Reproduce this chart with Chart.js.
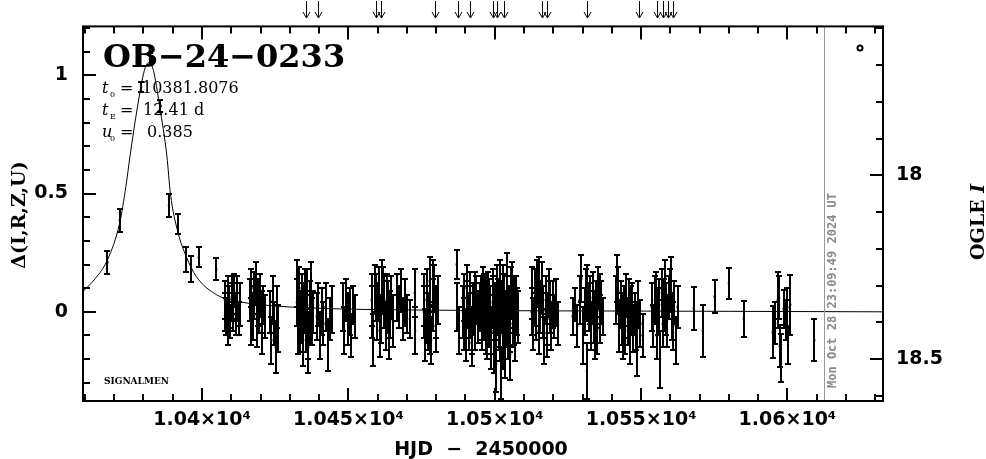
<!DOCTYPE html>
<html>
<head>
<meta charset="utf-8">
<title>OB-24-0233</title>
<script src="https://cdn.jsdelivr.net/npm/chart.js@4.4.1/dist/chart.umd.min.js"></script>
<style>
  html, body { margin: 0; padding: 0; background: #fff; }
</style>
</head>
<body>
<canvas id="lc" width="986" height="459"></canvas>
<script>
// Photometry: HJD-2450000, delta flux, error (one line per observing run)
const obsHJD = [
  10367.7, 10371.9, 10379.2, 10382.2, 10385.8, 10388.7, 10391.8, 10394.6, 10396.3, 10398.9, 10404.9,
  10407.8, 10408.3, 10408.8, 10409.2, 10409.7, 10410.1, 10410.6, 10411.0, 10411.5, 10412.0, 10412.6, 10413.0,
  10416.4, 10416.9, 10417.4, 10417.9, 10418.4, 10418.9, 10419.4, 10419.9, 10420.4, 10420.9, 10421.5,
  10423.2, 10423.7, 10424.2, 10424.7, 10425.2, 10425.6, 10425.9,
  10432.4, 10432.8, 10433.3, 10433.7, 10434.2, 10434.6, 10435.0, 10435.5, 10435.9, 10436.3, 10436.8, 10437.2, 10437.6, 10437.9,
  10439.2, 10439.7, 10440.3, 10440.9, 10441.5, 10442.2, 10443.0, 10443.7, 10444.4,
  10448.1, 10448.6, 10449.2, 10449.8, 10450.4, 10451.0, 10451.6, 10452.2,
  10458.0, 10458.5, 10459.2, 10459.8, 10460.4, 10461.0, 10461.6, 10462.2, 10462.8, 10463.4, 10464.0, 10464.6, 10465.2,
  10466.6, 10467.3, 10468.0, 10468.7, 10469.4, 10470.0, 10471.0, 10472.7, 10472.8,
  10475.8, 10476.3, 10476.8, 10477.3, 10477.8, 10478.3, 10478.8, 10479.3, 10479.8, 10480.5,
  10487.0, 10487.2, 10487.8,
  10489.1, 10489.6, 10490.1, 10490.6, 10491.1, 10491.6, 10492.1, 10492.6, 10493.1, 10493.6, 10494.2, 10494.9,
  10495.3, 10495.7, 10496.1, 10496.5, 10496.9, 10497.3, 10497.7, 10498.1, 10498.5, 10498.9, 10499.3, 10499.7, 10500.1, 10500.5, 10500.9, 10501.3,
  10501.7, 10502.1, 10502.5, 10502.9, 10503.3, 10503.7, 10504.1, 10504.5, 10504.9, 10505.3, 10505.7, 10506.1, 10506.5, 10507.0, 10507.4, 10507.8,
  10512.6, 10513.2, 10513.8, 10514.4, 10515.0, 10515.6, 10516.2, 10516.8, 10517.4, 10518.0, 10518.6, 10519.2, 10519.8, 10520.4, 10521.0, 10521.5,
  10526.6, 10527.4, 10528.2, 10529.0, 10529.6, 10530.2, 10530.7,
  10531.2, 10531.4, 10531.5, 10532.3, 10532.9, 10533.5, 10534.1, 10534.7, 10535.3, 10535.9, 10536.4, 10536.9,
  10541.6, 10541.9, 10542.5, 10543.1, 10543.7, 10544.3, 10544.9, 10545.5, 10546.1, 10546.7, 10547.3, 10547.9, 10548.5, 10549.1, 10549.8, 10550.5,
  10553.6, 10554.1, 10554.7, 10555.3, 10555.9, 10556.5, 10557.1, 10557.7, 10558.3, 10558.9, 10559.5, 10560.1, 10560.7, 10561.3, 10561.9, 10562.5,
  10568.0, 10571.1, 10575.1, 10580.0, 10585.1,
  10595.0, 10595.8, 10596.7, 10597.2, 10597.4, 10597.8, 10598.7, 10599.5, 10600.0, 10600.2, 10601.0,
  10609.2,
  // second pass through the crowded runs
  10408.0, 10409.0, 10410.4, 10411.8,
  10416.6, 10417.6, 10419.1, 10420.6,
  10432.6, 10433.5, 10434.4, 10435.2, 10436.1, 10437.0,
  10458.2, 10459.5, 10460.7, 10461.9, 10463.1, 10464.3,
  10476.0, 10477.0, 10478.0, 10479.0, 10480.0,
  10489.4, 10490.4, 10491.4, 10492.4, 10493.4,
  10495.5, 10496.3, 10497.1, 10497.9, 10498.7, 10499.5, 10500.3, 10501.1,
  10501.9, 10502.7, 10503.5, 10504.3, 10505.1, 10505.9, 10506.7, 10507.5,
  10512.9, 10514.1, 10515.3, 10516.5, 10517.7, 10518.9,
  10532.6, 10533.8, 10535.0, 10536.1,
  10542.2, 10543.4, 10544.6, 10545.8, 10547.0, 10548.2,
  10555.0, 10556.2, 10557.4, 10558.6, 10559.8, 10561.0
];
const obsDelta = [
  0.21, 0.386, 0.95, 1.07, 0.87, 0.45, 0.37, 0.22, 0.18, 0.23, 0.18,
  0.05, -0.02, 0.08, 0.02, -0.04, 0.06, 0.00, 0.09, -0.01, 0.04, -0.03, 0.03,
  0.05, 0.10, -0.02, 0.04, 0.12, -0.06, 0.01, 0.07, -0.08, 0.03, -0.02,
  0.00, -0.12, 0.05, -0.05, -0.15, 0.02, -0.07,
  0.04, -0.08, 0.10, -0.02, 0.06, -0.12, 0.01, -0.05, 0.08, -0.15, 0.03, 0.11, -0.04, 0.00,
  -0.02, 0.03, -0.10, 0.00, -0.05, 0.02, -0.14, -0.03, 0.01,
  0.02, -0.08, 0.05, -0.03, 0.00, -0.10, 0.03, -0.02,
  0.05, -0.12, 0.10, 0.00, 0.08, -0.03, 0.12, 0.04, -0.06, 0.02, -0.10, 0.06, -0.04,
  0.06, 0.02, 0.09, -0.03, 0.04, -0.01, -0.03, 0.08, -0.08,
  0.00, -0.10, 0.08, -0.04, 0.13, -0.12, 0.03, 0.10, -0.06, 0.05,
  0.20, 0.02, -0.08,
  0.00, 0.06, -0.10, 0.03, -0.04, 0.08, -0.13, 0.01, -0.06, 0.05, -0.02, 0.02,
  0.05, -0.05, 0.10, -0.02, 0.03, -0.10, 0.07, -0.04, 0.01, -0.08, 0.04, -0.15, 0.00, -0.22, 0.09, -0.06,
  0.12, -0.26, 0.02, -0.12, 0.06, -0.03, 0.15, -0.09, 0.01, -0.18, 0.08, -0.05, 0.03, -0.10, 0.05, -0.02,
  0.00, -0.05, 0.06, 0.12, -0.08, 0.02, 0.10, -0.12, 0.05, -0.03, 0.08, -0.06, 0.03, -0.02, 0.04, -0.05,
  -0.02, 0.03, -0.06, 0.05, 0.14, -0.10, 0.00,
  0.08, 0.08, -0.25, 0.02, -0.06, 0.06, -0.10, 0.03, 0.10, -0.03, 0.04, -0.02,
  0.05, 0.14, -0.06, 0.03, -0.10, 0.00, 0.07, -0.04, -0.12, 0.02, -0.07, -0.01, -0.16, 0.03, -0.05, -0.10,
  0.02, -0.06, 0.05, -0.10, 0.00, -0.20, 0.08, 0.03, 0.12, -0.04, 0.06, 0.14, -0.02, 0.04, -0.12, 0.02,
  0.015, -0.08, 0.065, 0.12, -0.03,
  -0.087, -0.048, 0.05, 0.06, -0.145, -0.195, 0.012, -0.035, 0.02, -0.14, 0.03,
  -0.12,
  // second pass
  0.00, -0.05, 0.04, 0.07,
  -0.04, 0.08, 0.04, 0.00,
  0.12, -0.06, 0.02, 0.07, -0.10, -0.02,
  0.00, 0.06, -0.08, 0.09, 0.05, -0.01,
  0.05, -0.01, -0.07, 0.12, 0.00,
  -0.05, 0.10, 0.00, -0.08, 0.07,
  -0.01, 0.06, -0.07, 0.04, -0.12, 0.08, -0.04, 0.02,
  -0.10, 0.10, -0.16, 0.04, -0.06, 0.11, -0.03, 0.00,
  0.08, -0.02, 0.13, 0.00, -0.09, 0.02,
  0.05, -0.02, -0.08, 0.07,
  0.09, -0.03, -0.08, 0.04, 0.01, -0.06,
  0.07, 0.03, -0.05, 0.01, 0.09, -0.06
];
const obsErr = [
  0.049, 0.047, 0.022, 0.025, 0.025, 0.05, 0.042, 0.053, 0.055, 0.042, 0.047,
  0.08, 0.08, 0.07, 0.09, 0.07, 0.09, 0.08, 0.07, 0.09, 0.08, 0.07, 0.09,
  0.09, 0.08, 0.10, 0.07, 0.09, 0.09, 0.10, 0.09, 0.10, 0.08, 0.09,
  0.09, 0.10, 0.10, 0.09, 0.11, 0.09, 0.10,
  0.10, 0.10, 0.09, 0.11, 0.10, 0.11, 0.10, 0.12, 0.10, 0.11, 0.10, 0.10, 0.10, 0.09,
  0.10, 0.09, 0.10, 0.10, 0.09, 0.10, 0.11, 0.09, 0.10,
  0.10, 0.10, 0.09, 0.11, 0.10, 0.09, 0.08, 0.09,
  0.11, 0.11, 0.10, 0.12, 0.11, 0.10, 0.10, 0.11, 0.10, 0.11, 0.10, 0.09, 0.11,
  0.10, 0.09, 0.09, 0.09, 0.10, 0.08, 0.08, 0.10, 0.10,
  0.11, 0.11, 0.10, 0.12, 0.10, 0.10, 0.11, 0.10, 0.11, 0.10,
  0.06, 0.10, 0.10,
  0.11, 0.10, 0.11, 0.10, 0.12, 0.09, 0.10, 0.11, 0.10, 0.10, 0.11, 0.10,
  0.10, 0.11, 0.09, 0.10, 0.12, 0.10, 0.10, 0.11, 0.10, 0.10, 0.11, 0.11, 0.12, 0.12, 0.11, 0.10,
  0.10, 0.11, 0.11, 0.12, 0.10, 0.12, 0.10, 0.11, 0.10, 0.11, 0.11, 0.10, 0.12, 0.11, 0.10, 0.11,
  0.10, 0.11, 0.12, 0.10, 0.10, 0.11, 0.11, 0.10, 0.10, 0.11, 0.10, 0.10, 0.10, 0.09, 0.10, 0.09,
  0.08, 0.07, 0.09, 0.10, 0.10, 0.12, 0.10,
  0.10, 0.12, 0.12, 0.10, 0.10, 0.11, 0.10, 0.10, 0.09, 0.10, 0.09, 0.08,
  0.10, 0.10, 0.11, 0.10, 0.10, 0.11, 0.09, 0.10, 0.10, 0.09, 0.10, 0.09, 0.11, 0.10, 0.10, 0.09,
  0.10, 0.09, 0.10, 0.10, 0.10, 0.12, 0.10, 0.11, 0.10, 0.11, 0.09, 0.09, 0.10, 0.09, 0.10, 0.09,
  0.09, 0.11, 0.07, 0.066, 0.075,
  0.11, 0.09, 0.12, 0.09, 0.09, 0.10, 0.08, 0.085, 0.08, 0.08, 0.127,
  0.09,
  // second pass
  0.08, 0.09, 0.08, 0.08,
  0.10, 0.09, 0.10, 0.09,
  0.10, 0.11, 0.10, 0.11, 0.10, 0.11,
  0.11, 0.10, 0.11, 0.10, 0.11, 0.10,
  0.11, 0.12, 0.11, 0.10, 0.11,
  0.11, 0.10, 0.11, 0.10, 0.10,
  0.11, 0.10, 0.11, 0.10, 0.12, 0.10, 0.11, 0.12,
  0.11, 0.10, 0.12, 0.11, 0.11, 0.10, 0.11, 0.10,
  0.11, 0.10, 0.10, 0.11, 0.10, 0.11,
  0.10, 0.11, 0.10, 0.09,
  0.10, 0.11, 0.10, 0.10, 0.11, 0.10,
  0.10, 0.11, 0.10, 0.11, 0.09, 0.10
];

// Model light curve
const modelHJD = [10359.34, 10363.5, 10367.7, 10371.9, 10374.0, 10375.4, 10378.0, 10380.3, 10381.8, 10383.4,
  10385.5, 10388.0, 10389.2, 10391.8, 10394.6, 10398.0, 10405.0, 10412.0, 10420.0, 10440.0,
  10470.0, 10520.0, 10580.0, 10632.66];
const modelDelta = [0.086, 0.14, 0.22, 0.377, 0.53, 0.658, 0.87, 1.02, 1.054, 1.02,
  0.87, 0.658, 0.50, 0.335, 0.234, 0.15, 0.072, 0.045, 0.03, 0.015,
  0.008, 0.004, 0.002, 0.0];

// Arrows along the top edge
const arrowHJD = [10435.5, 10439.6, 10459.6, 10461.3, 10479.6, 10487.6, 10491.6, 10499.5, 10500.7, 10503.2,
  10516.1, 10517.8, 10531.4, 10549.4, 10555.3, 10557.4, 10559.3, 10561.0];

// Ticks
const xTickValues = [10400, 10450, 10500, 10550, 10600];
const xTickLabels = ['1.04×10⁴', '1.045×10⁴', '1.05×10⁴', '1.055×10⁴', '1.06×10⁴'];
const yTickValues = [0, 0.5, 1];
const yTickLabels = ['0', '0.5', '1'];
const magTickValues = [18, 18.5];
const magTickLabels = ['18', '18.5'];

const nowHJD = 10612.4;
const stamp = 'Mon Oct 28 23:09:49 2024 UT';

const tickFont = { family: 'DejaVu Sans', size: 19, weight: 'bold' };

// Error bars with small caps
const errorBars = {
  id: 'errorBars',
  afterDatasetsDraw(chart) {
    const { ctx, chartArea: a, scales: { x, y } } = chart;
    ctx.save();
    ctx.beginPath();
    ctx.rect(a.left, a.top, a.right - a.left, a.bottom - a.top);
    ctx.clip();
    ctx.strokeStyle = '#000';
    ctx.lineWidth = 2;
    obsHJD.forEach((t, i) => {
      const px = Math.round(x.getPixelForValue(t));
      const hi = Math.round(y.getPixelForValue(obsDelta[i] + obsErr[i]));
      const lo = Math.round(y.getPixelForValue(obsDelta[i] - obsErr[i]));
      ctx.beginPath();
      ctx.moveTo(px, hi); ctx.lineTo(px, lo);
      ctx.moveTo(px - 3, hi); ctx.lineTo(px + 3, hi);
      ctx.moveTo(px - 3, lo); ctx.lineTo(px + 3, lo);
      ctx.stroke();
    });
    ctx.restore();
  }
};

// Frame, inward ticks, labels and annotations
const decorations = {
  id: 'decorations',
  afterDraw(chart) {
    const { ctx, chartArea: a, scales: { x, y, y2 } } = chart;
    const seg = (x1, y1, x2, y2_) => { ctx.moveTo(x1, y1); ctx.lineTo(x2, y2_); };
    ctx.save();

    // time of plot
    const nx = Math.round(x.getPixelForValue(nowHJD)) + 0.5;
    ctx.strokeStyle = '#999';
    ctx.lineWidth = 1;
    ctx.beginPath(); seg(nx, a.top, nx, a.bottom); ctx.stroke();

    ctx.strokeStyle = '#000';
    ctx.lineWidth = 2;
    ctx.strokeRect(a.left, a.top, a.right - a.left, a.bottom - a.top);
    ctx.beginPath();
    for (let d = 10360; d <= 10630; d += 10) {
      const px = Math.round(x.getPixelForValue(d));
      const len = d % 50 === 0 ? 13 : 7;
      seg(px, a.bottom, px, a.bottom - len);
      seg(px, a.top, px, a.top + len);
    }
    for (let k = -3; k <= 12; k++) {
      const py = Math.round(y.getPixelForValue(k / 10));
      seg(a.left, py, a.left + (k % 5 === 0 ? 13 : 7), py);
    }
    for (let k = 176; k <= 186; k++) {
      const py = Math.round(y2.getPixelForValue(k / 10));
      seg(a.right, py, a.right - (k === 180 || k === 185 ? 13 : 7), py);
    }
    ctx.stroke();

    // arrows above the frame
    ctx.lineWidth = 1;
    ctx.beginPath();
    arrowHJD.forEach(t => {
      const px = Math.round(x.getPixelForValue(t)) + 0.5;
      seg(px, 1, px, 18);
      seg(px - 3.5, 12, px, 18);
      seg(px + 3.5, 12, px, 18);
    });
    ctx.stroke();

    // filter symbol
    ctx.lineWidth = 2;
    ctx.beginPath();
    ctx.arc(860, 48, 2.5, 0, Math.PI * 2);
    ctx.stroke();

    ctx.fillStyle = '#000';
    ctx.textBaseline = 'alphabetic';
    ctx.textAlign = 'left';
    ctx.font = 'bold 32px "DejaVu Serif"';
    ctx.fillText('OB−24−0233', 103, 67);

    const params = [['t', '0', '10381.8076', 93, 142], ['t', 'E', '12.41 d', 115, 143], ['u', '0', '0.385', 137, 147]];
    params.forEach(([sym, sub, val, by, vx]) => {
      ctx.font = 'italic 16px "DejaVu Serif"';
      ctx.fillText(sym, 102, by);
      ctx.font = '8px "DejaVu Serif"';
      ctx.fillText(sub, 110, by + 4);
      ctx.font = '16px "DejaVu Serif"';
      ctx.fillText('=', 120, by);
      ctx.fillText(val, vx, by);
    });

    ctx.font = 'bold 9px "DejaVu Serif"';
    ctx.fillText('SIGNALMEN', 104, 384);

    // x axis title
    ctx.textAlign = 'center';
    ctx.font = 'bold 19px "DejaVu Sans"';
    ctx.fillText('HJD  −  2450000', 481, 455);

    // left axis title
    ctx.save();
    ctx.translate(25, 215);
    ctx.rotate(-Math.PI / 2);
    ctx.font = 'bold 19px "DejaVu Serif"';
    ctx.fillText('Δ(I,R,Z,U)', 0, 0);
    ctx.restore();

    // right axis title
    ctx.save();
    ctx.translate(984, 222);
    ctx.rotate(-Math.PI / 2);
    ctx.textAlign = 'left';
    ctx.font = 'bold 19px "DejaVu Serif"';
    const w1 = ctx.measureText('OGLE ').width;
    ctx.font = 'bold italic 19px "DejaVu Serif"';
    const w2 = ctx.measureText('I').width;
    ctx.font = 'bold 19px "DejaVu Serif"';
    ctx.fillText('OGLE ', -(w1 + w2) / 2, 0);
    ctx.font = 'bold italic 19px "DejaVu Serif"';
    ctx.fillText('I', -(w1 + w2) / 2 + w1, 0);
    ctx.restore();

    // time stamp along the grey line
    ctx.save();
    ctx.translate(nx + 11, 388);
    ctx.rotate(-Math.PI / 2);
    ctx.textAlign = 'left';
    ctx.fillStyle = '#8a8a8a';
    ctx.font = 'bold 12px "DejaVu Sans Mono"';
    ctx.fillText(stamp, 0, 0);
    ctx.restore();

    ctx.restore();
  }
};

new Chart(document.getElementById('lc'), {
  type: 'scatter',
  data: {
    datasets: [
      {
        label: 'data',
        data: obsHJD.map((t, i) => ({ x: t, y: obsDelta[i] })),
        pointStyle: 'rect',
        pointRadius: 1.5,
        backgroundColor: '#000',
        borderColor: '#000',
        borderWidth: 0,
        showLine: false
      },
      {
        label: 'model',
        type: 'line',
        data: modelHJD.map((t, i) => ({ x: t, y: modelDelta[i] })),
        borderColor: '#000',
        borderWidth: 1,
        pointRadius: 0,
        fill: false,
        cubicInterpolationMode: 'monotone'
      }
    ]
  },
  options: {
    responsive: false,
    animation: false,
    devicePixelRatio: 1,
    layout: { padding: { top: 26, left: 0, right: 0, bottom: 0 } },
    plugins: { legend: { display: false }, tooltip: { enabled: false } },
    scales: {
      x: {
        type: 'linear',
        position: 'bottom',
        min: 10359.34,
        max: 10632.66,
        grid: { display: false, drawTicks: false },
        border: { display: false },
        afterBuildTicks: s => { s.ticks = xTickValues.map(v => ({ value: v })); },
        afterFit: s => { s.height = 58; },
        ticks: {
          autoSkip: false,
          maxRotation: 0,
          padding: 8,
          color: '#000',
          font: tickFont,
          callback: v => xTickLabels[xTickValues.indexOf(v)]
        }
      },
      y: {
        type: 'linear',
        position: 'left',
        min: -0.377,
        max: 1.2065,
        grid: { display: false, drawTicks: false },
        border: { display: false },
        afterBuildTicks: s => { s.ticks = yTickValues.map(v => ({ value: v })); },
        afterFit: s => { s.width = 83; },
        ticks: {
          padding: 15,
          color: '#000',
          font: tickFont,
          callback: v => yTickLabels[yTickValues.indexOf(v)]
        }
      },
      y2: {
        type: 'linear',
        position: 'right',
        reverse: true,
        min: 17.595,
        max: 18.614,
        grid: { display: false, drawTicks: false },
        border: { display: false },
        afterBuildTicks: s => { s.ticks = magTickValues.map(v => ({ value: v })); },
        afterFit: s => { s.width = 103; },
        ticks: {
          padding: 13,
          color: '#000',
          font: tickFont,
          callback: v => magTickLabels[magTickValues.indexOf(v)]
        }
      }
    }
  },
  plugins: [errorBars, decorations]
});
</script>
</body>
</html>
